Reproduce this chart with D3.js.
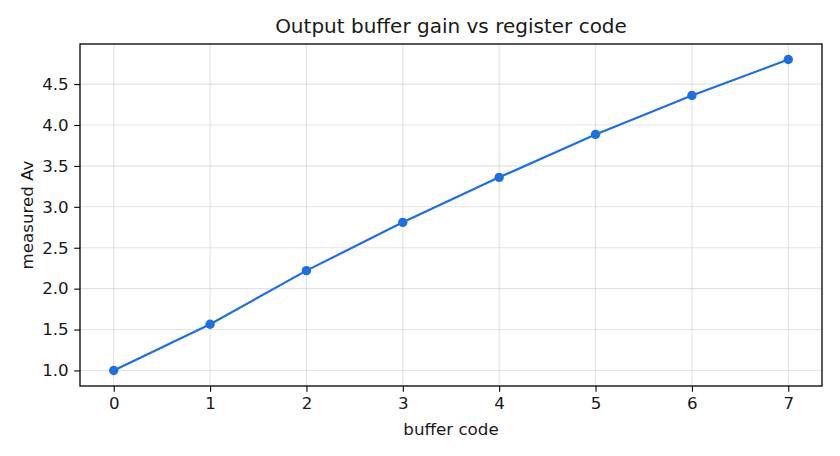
<!DOCTYPE html>
<html>
<head>
<meta charset="utf-8">
<script src="https://cdn.jsdelivr.net/npm/d3@7"></script>
<style>
  body { margin: 0; background: #fff; }
  text { font-family: "DejaVu Sans", sans-serif; fill: #1a1a1a; }
</style>
</head>
<body>
<svg id="chart"></svg>
<script>
// buffer code vs measured gain
const codes = [0, 1, 2, 3, 4, 5, 6, 7];
const gain = [1.00, 1.565, 2.22, 2.81, 3.36, 3.885, 4.36, 4.80];
const yTicks = [1.0, 1.5, 2.0, 2.5, 3.0, 3.5, 4.0, 4.5];

const W = 840, H = 456;
const margin = {top: 44, right: 18, bottom: 70, left: 80};
const width = W - margin.left - margin.right,
    height = H - margin.top - margin.bottom;

const svg = d3.select("#chart")
    .attr("width", W)
    .attr("height", H);

const g = svg.append("g")
    .attr("transform", `translate(${margin.left},${margin.top})`);

// matplotlib-like 5% margins
const xPad = 0.05 * (d3.max(codes) - d3.min(codes));
const yPad = 0.05 * (d3.max(gain) - d3.min(gain));

const x = d3.scaleLinear()
    .domain([d3.min(codes) - xPad, d3.max(codes) + xPad])
    .range([0, width]);

const y = d3.scaleLinear()
    .domain([d3.min(gain) - yPad, d3.max(gain) + yPad])
    .range([height, 0]);

// grid
g.append("g")
    .selectAll("line")
    .data(codes)
    .join("line")
    .attr("x1", d => x(d)).attr("x2", d => x(d))
    .attr("y1", 0).attr("y2", height)
    .attr("stroke", "#b0b0b0").attr("stroke-opacity", 0.35).attr("stroke-width", 1.1);

g.append("g")
    .selectAll("line")
    .data(yTicks)
    .join("line")
    .attr("y1", d => y(d)).attr("y2", d => y(d))
    .attr("x1", 0).attr("x2", width)
    .attr("stroke", "#b0b0b0").attr("stroke-opacity", 0.35).attr("stroke-width", 1.1);

// axes
const xAxis = g.append("g")
    .attr("transform", `translate(0,${height})`)
    .call(d3.axisBottom(x).tickValues(codes).tickFormat(d3.format("d")).tickSize(5.8).tickPadding(5.5));

const yAxis = g.append("g")
    .call(d3.axisLeft(y).tickValues(yTicks).tickFormat(d3.format(".1f")).tickSize(5.8).tickPadding(5.5));

[xAxis, yAxis].forEach(a => {
    a.select(".domain").remove();
    a.selectAll(".tick line").attr("stroke", "#000").attr("stroke-width", 1.1);
    a.selectAll(".tick text")
        .attr("font-family", "DejaVu Sans")
        .attr("font-size", "16.7px")
        .attr("fill", "#1a1a1a");
});

// frame
g.append("rect")
    .attr("width", width).attr("height", height)
    .attr("fill", "none").attr("stroke", "#000").attr("stroke-width", 1.3);

// line + markers
const line = d3.line()
    .x((d, i) => x(codes[i]))
    .y(d => y(d));

g.append("path")
    .datum(gain)
    .attr("d", line)
    .attr("fill", "none")
    .attr("stroke", "#1f6fdc")
    .attr("stroke-width", 2.2);

g.selectAll(".pt")
    .data(gain)
    .join("circle")
    .attr("class", "pt")
    .attr("cx", (d, i) => x(codes[i]))
    .attr("cy", d => y(d))
    .attr("r", 4.7)
    .attr("fill", "#1f6fe0");

// titles
svg.append("text")
    .attr("x", margin.left + width / 2)
    .attr("y", 33)
    .attr("text-anchor", "middle")
    .attr("font-size", "20px")
    .text("Output buffer gain vs register code");

svg.append("text")
    .attr("x", margin.left + width / 2)
    .attr("y", 435)
    .attr("text-anchor", "middle")
    .attr("font-size", "16.7px")
    .text("buffer code");

svg.append("text")
    .attr("transform", `translate(33,${margin.top + height / 2}) rotate(-90)`)
    .attr("text-anchor", "middle")
    .attr("font-size", "16.7px")
    .text("measured Av");
</script>
</body>
</html>
